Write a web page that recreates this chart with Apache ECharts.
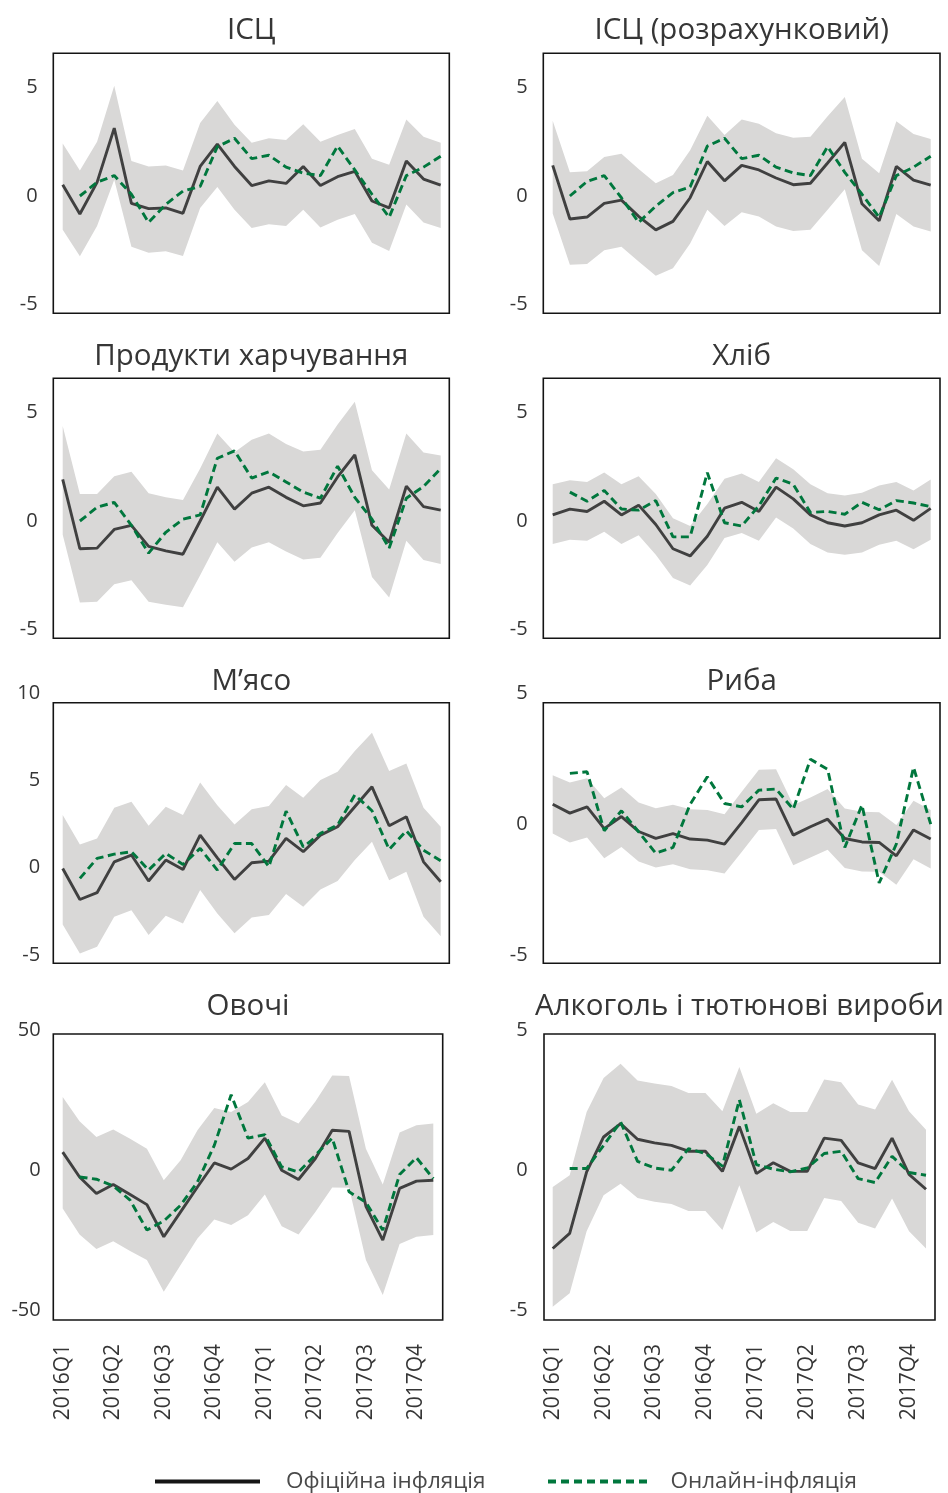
<!DOCTYPE html>
<html>
<head>
<meta charset="utf-8">
<script src="https://cdn.jsdelivr.net/npm/echarts@6/dist/echarts.min.js"></script>
<style>
  html, body { margin: 0; padding: 0; background: #fff; }
  #chart { width: 948px; height: 1493px; }
</style>
</head>
<body>
<div id="chart"></div>
<script>
// Monthly observations, Jan 2016 – Nov 2017
const months = ['2016-01','2016-02','2016-03','2016-04','2016-05','2016-06','2016-07','2016-08',
  '2016-09','2016-10','2016-11','2016-12','2017-01','2017-02','2017-03','2017-04','2017-05',
  '2017-06','2017-07','2017-08','2017-09','2017-10','2017-11'];

const panelTitles = ['ІСЦ', 'ІСЦ (розрахунковий)', 'Продукти харчування', 'Хліб',
  'М’ясо', 'Риба', 'Овочі', 'Алкоголь і тютюнові вироби'];

const legendNames = ['Офіційна інфляція', 'Онлайн-інфляція'];

// ІСЦ
const cpiOfficial = [0.52,-0.83,0.63,3.13,-0.34,-0.58,-0.55,-0.8,1.36,2.39,1.36,0.48,0.7,0.58,1.36,0.48,0.89,1.14,-0.23,-0.55,1.61,0.78,0.5];
const cpiOnline   = [null,0,0.63,0.94,0.08,-1.22,-0.39,0.23,0.44,2.27,2.66,1.72,1.88,1.33,1.05,0.94,2.3,1.2,0.08,-0.98,0.94,1.33,1.83];
const cpiLow      = [-1.56,-2.78,-1.38,0.75,-2.34,-2.61,-2.55,-2.77,-0.55,0.42,-0.63,-1.48,-1.3,-1.38,-0.63,-1.45,-1.09,-0.83,-2.16,-2.53,-0.39,-1.22,-1.48];
const cpiHigh     = [2.42,1.17,2.5,5.08,1.61,1.36,1.41,1.17,3.36,4.38,3.28,2.45,2.66,2.58,3.31,2.5,2.81,3.09,1.72,1.44,3.52,2.73,2.45];

// ІСЦ (розрахунковий)
const cpiCalcOfficial = [1.41,-1.06,-0.97,-0.34,-0.19,-0.94,-1.56,-1.17,-0.08,1.59,0.7,1.41,1.2,0.83,0.52,0.59,1.52,2.47,-0.36,-1.14,1.36,0.73,0.5];
const cpiCalcOnline   = [null,0,0.67,0.94,-0.08,-1.22,-0.47,0.16,0.42,2.3,2.66,1.72,1.88,1.33,1.06,0.94,2.27,1.09,0.08,-0.98,0.94,1.33,1.83];
const cpiCalcLow      = [-0.81,-3.17,-3.13,-2.5,-2.34,-3.02,-3.67,-3.33,-2.19,-0.63,-1.38,-0.75,-0.94,-1.41,-1.61,-1.56,-0.63,0.31,-2.5,-3.23,-0.83,-1.41,-1.64];
const cpiCalcHigh     = [3.47,1.09,1.14,1.8,1.95,1.25,0.59,0.97,2.11,3.7,2.81,3.52,3.33,2.89,2.69,2.73,3.67,4.56,1.72,1.05,3.44,2.86,2.63];

// Продукти харчування
const foodOfficial = [1.92,-1.28,-1.25,-0.39,-0.2,-1.17,-1.38,-1.53,0,1.56,0.55,1.28,1.56,1.09,0.7,0.83,2.03,3.05,-0.2,-0.98,1.61,0.66,0.5];
const foodOnline   = [null,0,0.63,0.86,-0.2,-1.48,-0.52,0.08,0.28,2.89,3.23,1.98,2.27,1.8,1.33,1.05,2.53,1.09,0.08,-1.25,1.05,1.59,2.42];
const foodLow      = [-0.63,-3.75,-3.72,-2.92,-2.73,-3.72,-3.86,-3.98,-2.5,-0.98,-1.88,-1.22,-0.98,-1.41,-1.77,-1.69,-0.55,0.5,-2.58,-3.52,-0.91,-1.8,-1.98];
const foodHigh     = [4.38,1.25,1.25,2.06,2.27,1.28,1.09,0.97,2.42,4.03,3.17,3.75,4.03,3.55,3.2,3.28,4.45,5.5,2.34,1.45,4.03,3.16,3.02];

// Хліб
const breadOfficial = [0.28,0.55,0.44,0.91,0.28,0.73,-0.16,-1.28,-1.61,-0.7,0.59,0.86,0.44,1.56,1.02,0.28,-0.08,-0.23,-0.08,0.28,0.5,0.03,0.58];
const breadOnline   = [null,1.33,0.91,1.41,0.55,0.5,0.94,-0.73,-0.73,2.23,-0.08,-0.23,0.7,1.98,1.69,0.39,0.44,0.31,0.86,0.52,0.94,0.83,0.66];
const breadLow      = [-1.06,-0.86,-0.91,-0.5,-1.06,-0.66,-1.56,-2.63,-2.97,-2.03,-0.78,-0.55,-0.91,0.16,-0.34,-1.06,-1.45,-1.56,-1.45,-1.09,-0.91,-1.3,-0.86];
const breadHigh     = [1.69,1.88,1.8,2.23,1.69,2.06,1.25,0.13,-0.23,0.78,1.95,2.19,1.8,2.89,2.39,1.69,1.28,1.17,1.3,1.64,1.8,1.41,1.91];

// М’ясо
const meatOfficial = [-0.04,-1.82,-1.43,0.34,0.73,-0.76,0.44,-0.1,1.87,0.57,-0.67,0.29,0.38,1.68,0.92,1.87,2.35,3.5,4.64,2.41,2.92,0.34,-0.8];
const meatOnline   = [null,-0.61,0.54,0.78,0.92,-0.13,0.82,0.19,1.11,-0.13,1.39,1.39,0.06,3.25,1.2,1.97,2.45,4.17,3.27,1.05,2.12,1.01,0.4];
const meatLow      = [-3.25,-4.91,-4.53,-2.81,-2.43,-3.86,-2.75,-3.19,-1.28,-2.62,-3.76,-2.85,-2.71,-1.51,-2.24,-1.24,-0.76,0.44,1.49,-0.71,-0.23,-2.81,-3.92];
const meatHigh     = [3.02,1.34,1.68,3.44,3.78,2.41,3.5,3.02,4.89,3.59,2.48,3.36,3.54,4.74,4.01,5.03,5.5,6.69,7.74,5.54,5.98,3.44,2.35];

// Риба
const fishOfficial = [0.76,0.42,0.66,-0.17,0.29,-0.28,-0.54,-0.36,-0.57,-0.61,-0.76,0.06,0.93,0.96,-0.42,-0.1,0.19,-0.55,-0.68,-0.7,-1.21,-0.22,-0.57];
const fishOnline   = [null,1.94,2.0,-0.25,0.51,-0.29,-1.11,-0.89,0.76,1.81,0.79,0.66,1.3,1.34,0.57,2.48,2.1,-0.89,0.73,-2.25,-0.76,2.17,0];
const fishLow      = [-0.36,-0.7,-0.51,-1.3,-0.87,-1.43,-1.66,-1.53,-1.72,-1.76,-1.89,-1.06,-0.22,-0.19,-1.57,-1.27,-0.98,-1.68,-1.81,-1.82,-2.32,-1.34,-1.69];
const fishHigh     = [1.87,1.59,1.75,0.99,1.4,0.83,0.61,0.74,0.57,0.54,0.38,1.24,2.08,2.1,0.73,1.02,1.34,0.6,0.47,0.45,-0.03,0.89,0.54];

// Овочі
const vegOfficial = [6.5,-2.4,-8.3,-5.1,-8.7,-12.3,-23.8,-14.9,-6.0,2.6,0.4,4.2,11.5,0,-3.3,4.2,14.3,13.9,-12.9,-25.0,-6.5,-3.9,-3.6];
const vegOnline   = [null,-2.4,-3.2,-5.6,-10.7,-21.4,-18.2,-12.5,-4.2,8.9,27.0,11.5,12.7,1.2,-0.6,5.4,11.5,-7.7,-11.5,-21.4,-1.5,4.5,-3.0];
const vegLow      = [-13.7,-23.0,-28.2,-25.4,-28.9,-32.1,-43.5,-33.9,-24.4,-17.6,-19.6,-16.1,-8.7,-20.0,-23.0,-14.9,-6.2,-6.3,-32.1,-44.6,-26.4,-23.8,-23.2];
const vegHigh     = [26.2,17.5,11.9,14.6,11.3,7.7,-3.6,3.6,14.3,22.3,20.8,24.4,31.5,19.6,16.7,24.6,33.9,33.7,7.7,-5.1,13.5,16.1,16.7];

// Алкоголь і тютюнові вироби
const alcOfficial = [-2.8,-2.26,-0.06,1.19,1.67,1.11,0.98,0.89,0.68,0.68,-0.04,1.57,-0.12,0.27,-0.04,-0.04,1.15,1.07,0.26,0.06,1.15,-0.15,-0.68];
const alcOnline   = [null,0.06,0.06,0.89,1.73,0.32,0.08,0,0.77,0.6,0.15,2.52,0.2,0.04,-0.06,0.08,0.6,0.68,-0.3,-0.44,0.5,-0.08,-0.18];
const alcLow      = [-4.88,-4.4,-2.18,-0.89,-0.48,-0.99,-1.13,-1.21,-1.46,-1.46,-2.14,-0.54,-2.23,-1.85,-2.17,-2.17,-0.99,-1.1,-1.88,-2.08,-1.01,-2.18,-2.8];
const alcHigh     = [-0.6,-0.18,2.08,3.3,3.81,3.21,3.1,3.01,2.76,2.76,2.11,3.69,2.02,2.4,2.08,2.08,3.25,3.15,2.35,2.17,3.24,2.11,1.45];

const panelData = [
  [cpiOfficial, cpiOnline, cpiLow, cpiHigh],
  [cpiCalcOfficial, cpiCalcOnline, cpiCalcLow, cpiCalcHigh],
  [foodOfficial, foodOnline, foodLow, foodHigh],
  [breadOfficial, breadOnline, breadLow, breadHigh],
  [meatOfficial, meatOnline, meatLow, meatHigh],
  [fishOfficial, fishOnline, fishLow, fishHigh],
  [vegOfficial, vegOnline, vegLow, vegHigh],
  [alcOfficial, alcOnline, alcLow, alcHigh]
];

// Axis ranges (labelled extremes and step) per panel
const yRanges = [[-5,5,5],[-5,5,5],[-5,5,5],[-5,5,5],[-5,10,5],[-5,5,5],[-50,50,50],[-5,5,5]];

// Page layout: boxed frame, plotting area (first/last month and labelled extremes), title centre
const layout = [
  { frame: [53.3, 53.3, 449.3, 313.3], plot: [62.7, 87.5, 440.7, 304.5], labelGap: 25, titleY: 28 },
  { frame: [543.3, 53.3, 940, 313.3], plot: [552.7, 87.5, 930.7, 304.5], labelGap: 25, titleY: 28 },
  { frame: [53.3, 378.3, 449.3, 638.3], plot: [62.7, 412.5, 440.7, 629.5], labelGap: 25, titleY: 354 },
  { frame: [543.3, 378.3, 940, 638.3], plot: [552.7, 412.5, 930.7, 629.5], labelGap: 25, titleY: 354 },
  { frame: [53.3, 702.7, 449.3, 963.3], plot: [62.7, 693.3, 440.7, 955], labelGap: 22.5, titleY: 679 },
  { frame: [543.3, 702.7, 940, 963.3], plot: [552.7, 693.3, 930.7, 955], labelGap: 25, titleY: 679 },
  { frame: [53.3, 1034, 442.7, 1320], plot: [62.7, 1030.5, 433.3, 1310], labelGap: 22, titleY: 1004, xLabels: true },
  { frame: [544, 1034, 935, 1320], plot: [552.7, 1030.5, 926, 1310], labelGap: 25, titleY: 1004, xLabels: true }
];

const FONT = "'Open Sans', 'Noto Sans', 'DejaVu Sans', sans-serif";
const TEXT = '#363636';
const BAND = '#d9d8d7';
const OFFICIAL = '#404040';
const ONLINE = '#00773d';

// Legend keys: a solid bar and a row of eight short dashes
const SOLID_KEY = 'rect';
const DASH_KEY = 'path://' + [0, 13, 26, 39, 52, 65, 78, 91].map(x => `M${x},0h8v4h-8z`).join(' ');

function quarterLabel(m) {
  const [y, mm] = m.split('-');
  return y + 'Q' + (Math.floor((+mm - 1) / 3) + 1);
}

const grid = [], xAxis = [], yAxis = [], series = [], title = [];

layout.forEach((L, i) => {
  const [fl, ft, fr, fb] = L.frame;
  const [pl, pt, pr, pb] = L.plot;
  const [yMin, yMax, yStep] = yRanges[i];
  const [official, online, low, high] = panelData[i];
  const g = grid.length;

  // plotting grid
  grid.push({ left: pl, top: pt, width: pr - pl, height: pb - pt, containLabel: false });
  xAxis.push({
    type: 'category', gridIndex: g, data: months, boundaryGap: false,
    axisLine: { show: false }, axisTick: { show: false }, splitLine: { show: false },
    axisLabel: {
      show: !!L.xLabels, interval: 2, rotate: 90, margin: 34,
      formatter: quarterLabel, fontSize: 21, color: TEXT, fontFamily: FONT
    }
  });
  yAxis.push({
    type: 'value', gridIndex: g, min: yMin, max: yMax, interval: yStep,
    axisLine: { show: false }, axisTick: { show: false }, splitLine: { show: false },
    axisLabel: { fontSize: 20, color: TEXT, fontFamily: FONT, margin: L.labelGap }
  });

  // boxed frame
  grid.push({
    left: fl, top: ft, width: fr - fl, height: fb - ft, show: true,
    borderColor: '#141414', borderWidth: 1.6, backgroundColor: 'transparent'
  });
  xAxis.push({ type: 'value', gridIndex: g + 1, show: false, min: 0, max: 1 });
  yAxis.push({ type: 'value', gridIndex: g + 1, show: false, min: 0, max: 1 });

  const stackId = 'band' + i;
  series.push({
    type: 'line', name: 'band-low-' + i, xAxisIndex: g, yAxisIndex: g,
    data: low, stack: stackId, stackStrategy: 'all', symbol: 'none', silent: true,
    lineStyle: { opacity: 0 }, clip: false, z: 1
  });
  series.push({
    type: 'line', name: 'band-high-' + i, xAxisIndex: g, yAxisIndex: g,
    data: high.map((h, k) => +(h - low[k]).toFixed(3)), stack: stackId, stackStrategy: 'all',
    symbol: 'none', silent: true, lineStyle: { opacity: 0 },
    areaStyle: { color: BAND, opacity: 1 }, clip: false, z: 1
  });
  series.push({
    type: 'line', name: legendNames[0], xAxisIndex: g, yAxisIndex: g, data: official,
    symbol: 'none', lineStyle: { color: OFFICIAL, width: 2.9 }, itemStyle: { color: OFFICIAL },
    clip: false, z: 3
  });
  series.push({
    type: 'line', name: legendNames[1], xAxisIndex: g, yAxisIndex: g, data: online,
    symbol: 'none', lineStyle: { color: ONLINE, width: 2.9, type: [8, 4.5] }, itemStyle: { color: ONLINE },
    clip: false, z: 4
  });

  title.push({
    text: panelTitles[i], left: (fl + fr) / 2, top: L.titleY - 12, textAlign: 'center',
    padding: 0,
    textStyle: { fontSize: 29.5, fontWeight: 'normal', color: TEXT, fontFamily: FONT }
  });
});

const legendText = { fontSize: 22.5, color: '#4a4a4a', fontFamily: FONT };
const option = {
  animation: false,
  backgroundColor: '#fff',
  title,
  grid, xAxis, yAxis, series,
  legend: [
    {
      left: 155, top: 1470, padding: 0, itemWidth: 105, itemHeight: 4, selectedMode: false,
      data: [{ name: legendNames[0], icon: SOLID_KEY, itemStyle: { color: '#151515' } }],
      textStyle: Object.assign({ padding: [0, 0, 0, 21] }, legendText)
    },
    {
      left: 548, top: 1470, padding: 0, itemWidth: 102, itemHeight: 4, selectedMode: false,
      data: [{ name: legendNames[1], icon: DASH_KEY, itemStyle: { color: ONLINE } }],
      textStyle: Object.assign({ padding: [0, 0, 0, 17] }, legendText)
    }
  ]
};

const chart = echarts.init(document.getElementById('chart'), null, { renderer: 'canvas' });
chart.setOption(option);
</script>
</body>
</html>
